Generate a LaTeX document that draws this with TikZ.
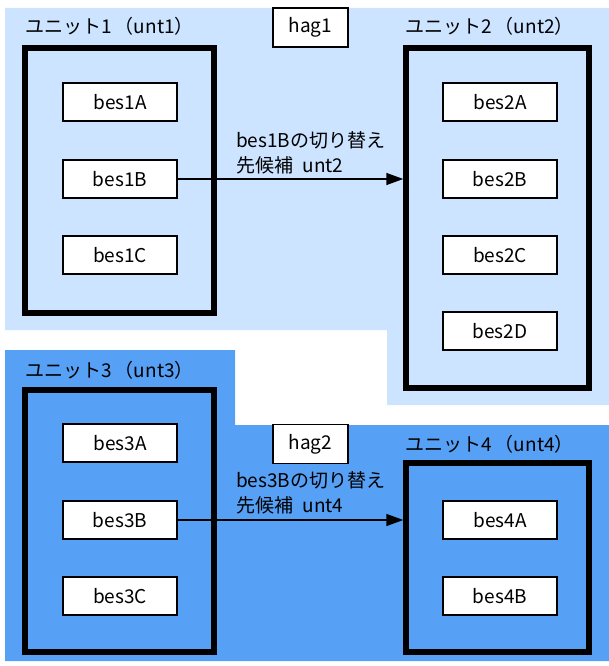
\documentclass[tikz,border=0pt]{standalone}
\usepackage{fontspec}
\setmainfont{Noto Sans CJK JP}
\usetikzlibrary{arrows.meta}
\definecolor{haglight}{RGB}{204,228,255}
\definecolor{hagdark}{RGB}{86,160,245}
\begin{document}
\begin{tikzpicture}[x=1pt, y=-1pt,
  every node/.style={font=\fontsize{19}{25}\selectfont},
  hagbox/.style={draw, line width=1.2pt, fill=white, minimum width=75pt, minimum height=39pt, inner sep=0pt},
  besbox/.style={draw, line width=1.2pt, fill=white, minimum width=114pt, minimum height=38pt, inner sep=0pt},
  unitbox/.style={draw, line width=5.5pt, inner sep=0pt},
  unitlabel/.style={anchor=base west, inner sep=0pt},
  switchlabel/.style={anchor=north west, align=left, inner sep=0pt},
  switchline/.style={line width=1.5pt, -{Triangle[length=17pt,width=12pt]}}]
\useasboundingbox (0,0) rectangle (609,666);
% hag1 area
\fill[haglight] (5,8) -- (609,8) -- (609,405) -- (387,405) -- (387,330) -- (5,330) -- cycle;
% hag2 area
\fill[hagdark] (5,350) -- (235,350) -- (235,425) -- (609,425) -- (609,661) -- (5,661) -- cycle;
% group names
\node[hagbox] (hag1) at (310.5,27.5) {hag1};
\node[hagbox] (hag2) at (310.5,444) {hag2};
% units
\node[unitlabel] (lbl1) at (25,34) {ユニット1\,（unt1）};
\node[unitlabel] (lbl2) at (405,34) {ユニット2\,（unt2）};
\node[unitlabel] (lbl3) at (25,377) {ユニット3\,（unt3）};
\node[unitlabel] (lbl4) at (405,451) {ユニット4\,（unt4）};
\node[unitbox, minimum width=189pt, minimum height=265pt] (unt1) at (119.5,180.5) {};
\node[unitbox, minimum width=183pt, minimum height=340pt] (unt2) at (497.5,218) {};
\node[unitbox, minimum width=189pt, minimum height=262pt] (unt3) at (119.5,521) {};
\node[unitbox, minimum width=183pt, minimum height=189pt] (unt4) at (497.5,557.5) {};
% servers
\node[besbox] (bes1A) at (120,102) {bes1A};
\node[besbox] (bes1B) at (120,179) {bes1B};
\node[besbox] (bes1C) at (120,255) {bes1C};
\node[besbox] (bes2A) at (500,102) {bes2A};
\node[besbox] (bes2B) at (500,179) {bes2B};
\node[besbox] (bes2C) at (500,255) {bes2C};
\node[besbox] (bes2D) at (500,331) {bes2D};
\node[besbox] (bes3A) at (120,443) {bes3A};
\node[besbox] (bes3B) at (120,520) {bes3B};
\node[besbox] (bes3C) at (120,596) {bes3C};
\node[besbox] (bes4A) at (500,520) {bes4A};
\node[besbox] (bes4B) at (500,596) {bes4B};
% switch targets
\draw[switchline] (bes1B.east) -- (bes1B.east -| unt2.west);
\node[switchlabel] (sw1) at (236,131) {bes1Bの切り替え\\先候補\enspace unt2};
\draw[switchline] (bes3B.east) -- (bes3B.east -| unt4.west);
\node[switchlabel] (sw2) at (236,471) {bes3Bの切り替え\\先候補\enspace unt4};
\end{tikzpicture}
\end{document}
